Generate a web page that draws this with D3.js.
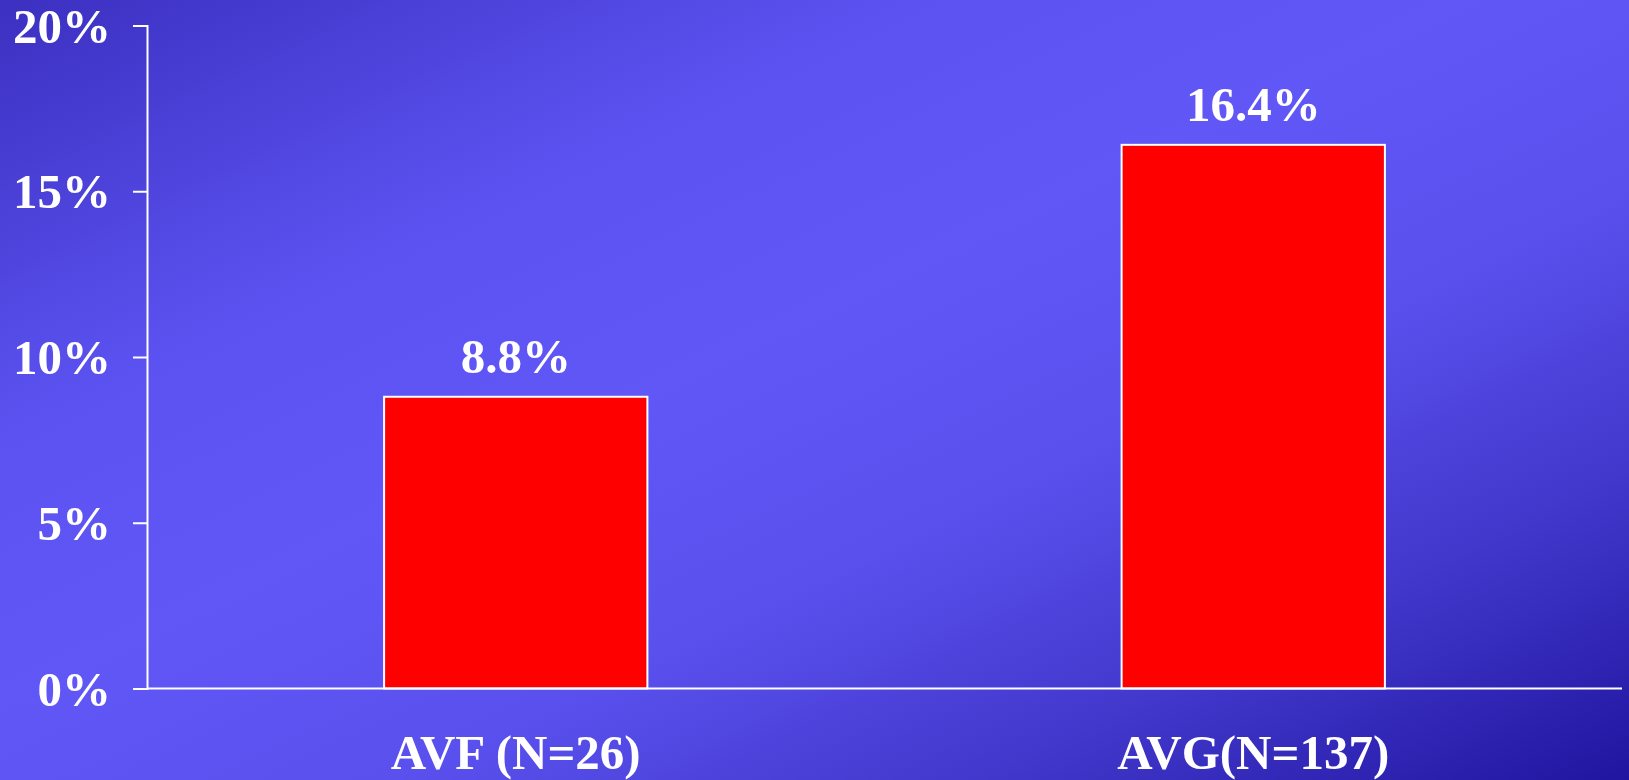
<!DOCTYPE html>
<html>
<head>
<meta charset="utf-8">
<script src="https://cdn.jsdelivr.net/npm/d3@7"></script>
<style>
  html, body { margin: 0; padding: 0; overflow: hidden; }
  svg { display: block; }
  text { font-family: "Liberation Serif", "Times New Roman", serif; font-weight: bold; fill: #ffffff; }
</style>
</head>
<body>
<svg id="chart" width="1629" height="780"></svg>
<script>
// Access type and its share
const categories = ["AVF (N=26)", "AVG(N=137)"];
const values = [8.8, 16.4];
const valueLabels = ["8.8%", "16.4%"];
const yTicks = [0, 5, 10, 15, 20];
const yTickLabels = ["0%", "5%", "10%", "15%", "20%"];

const W = 1629, H = 780;
const margin = { left: 147, right: 7, top: 25.5, bottom: 91.5 };
const FONT_SIZE = "49px";

const svg = d3.select("#chart");

// Diagonal blue background
const defs = svg.append("defs");
const grad = defs.append("linearGradient")
  .attr("id", "bg")
  .attr("x1", 0).attr("y1", 0).attr("x2", 1).attr("y2", 1);
[
  [0, "#3b30c0"],
  [0.28, "#5c52f1"],
  [0.45, "#6157f6"],
  [0.62, "#5a50ee"],
  [0.8, "#4238cc"],
  [1, "#2015a0"]
].forEach(([o, c]) => grad.append("stop").attr("offset", o).attr("stop-color", c));

svg.append("rect").attr("width", W).attr("height", H).attr("fill", "url(#bg)");

const x = d3.scaleBand()
  .domain(categories)
  .range([margin.left, W - margin.right])
  .paddingInner(0.643)
  .paddingOuter(0.3215);

const y = d3.scaleLinear()
  .domain([0, 20])
  .range([H - margin.bottom, margin.top]);

// Y axis
const yAxis = svg.append("g")
  .attr("transform", `translate(${margin.left},0)`)
  .call(d3.axisLeft(y)
    .tickValues(yTicks)
    .tickFormat((d, i) => yTickLabels[i])
    .tickSize(14)
    .tickPadding(22));
yAxis.select(".domain").attr("stroke", "#ffffff").attr("stroke-width", 2);
yAxis.selectAll(".tick line").attr("stroke", "#ffffff").attr("stroke-width", 2);
yAxis.selectAll(".tick text")
  .attr("fill", "#ffffff")
  .style("font-family", "'Liberation Serif', 'Times New Roman', serif")
  .style("font-weight", "bold")
  .style("font-size", FONT_SIZE)
  .attr("dy", "0.34em");

// Bars
svg.append("g").selectAll("rect")
  .data(values)
  .join("rect")
  .attr("x", (d, i) => x(categories[i]))
  .attr("width", x.bandwidth())
  .attr("y", d => y(d))
  .attr("height", d => y(0) - y(d))
  .attr("fill", "#ff0000")
  .attr("stroke", "#ffffff")
  .attr("stroke-width", 2);

// X axis baseline
svg.append("line")
  .attr("x1", margin.left).attr("x2", W - margin.right)
  .attr("y1", y(0)).attr("y2", y(0))
  .attr("stroke", "#ffffff").attr("stroke-width", 2);

// Value labels above bars
svg.append("g").selectAll("text")
  .data(values)
  .join("text")
  .attr("x", (d, i) => x(categories[i]) + x.bandwidth() / 2)
  .attr("y", d => y(d) - 24)
  .attr("text-anchor", "middle")
  .style("font-size", FONT_SIZE)
  .text((d, i) => valueLabels[i]);

// Category labels
svg.append("g").selectAll("text")
  .data(categories)
  .join("text")
  .attr("x", d => x(d) + x.bandwidth() / 2)
  .attr("y", 769)
  .attr("text-anchor", "middle")
  .style("font-size", FONT_SIZE)
  .text(d => d);
</script>
</body>
</html>
